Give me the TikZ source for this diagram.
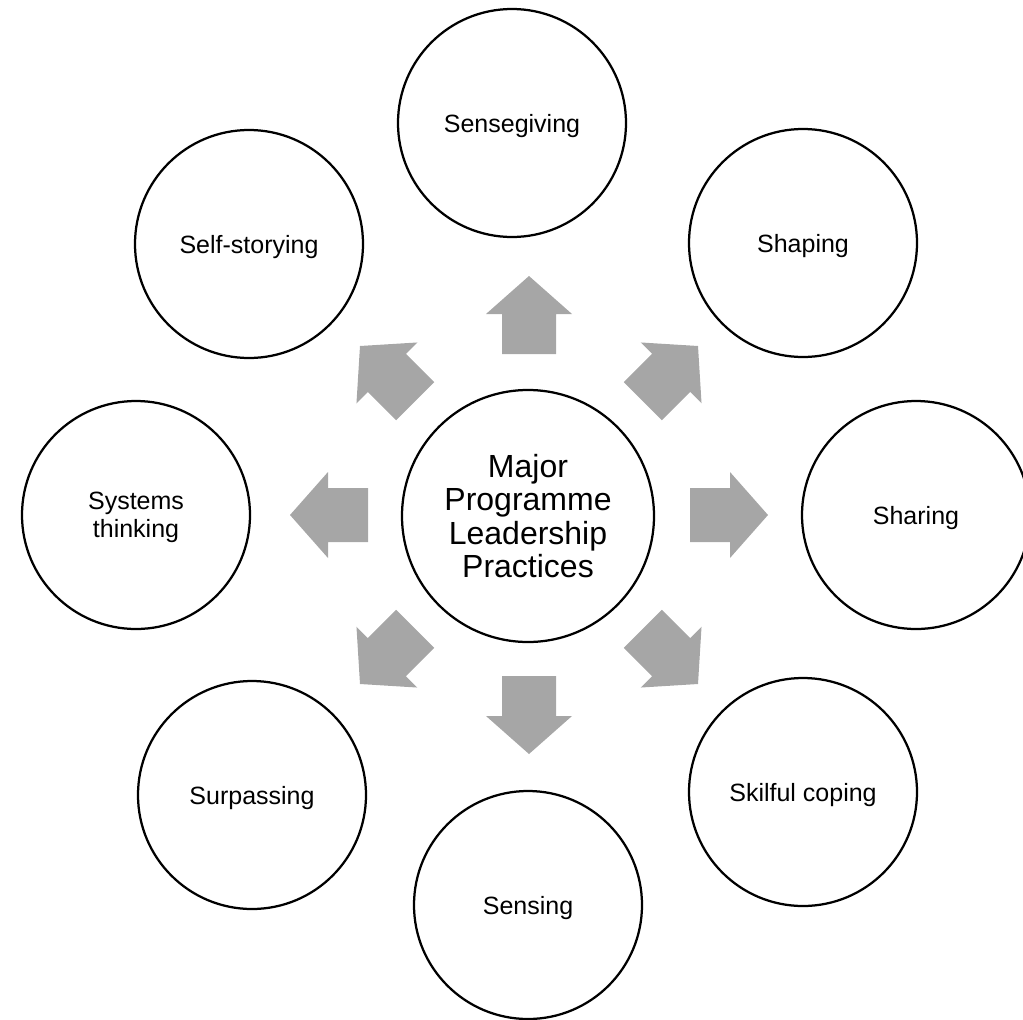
\documentclass[tikz,border=0pt]{standalone}
\usepackage{fontspec}
\setmainfont{Liberation Sans}
\definecolor{arrowgray}{HTML}{A6A6A6}
\begin{document}
\begin{tikzpicture}[x=1pt,y=-1pt,
  practice/.style={circle, draw=black, line width=2.25pt, fill=white, inner sep=0pt,
    minimum size=228pt, align=center, font=\fontsize{25}{28}\selectfont},
  oneline/.style={practice, text height=22pt, text depth=4pt},
  core/.style={practice, minimum size=252pt, font=\fontsize{32}{33.5}\selectfont},
  blockarrow/.style={fill=arrowgray, draw=none}]
\useasboundingbox (0,0) rectangle (1023,1020);
% radiating block arrows
\foreach \a in {0,45,...,315}{
  \fill[blockarrow, shift={(529,515)}, rotate=\a]
    (161,-27) -- (201,-27) -- (201,-43) -- (239,0) -- (201,43) -- (201,27) -- (161,27) -- cycle;
}
\node[core] (core) at (528,516) {Major\\Programme\\Leadership\\Practices};
\node[oneline] (sensegiving) at (512,123) {Sensegiving};
\node[oneline] (shaping) at (803,243) {Shaping};
\node[oneline] (sharing) at (916,515) {Sharing};
\node[oneline] (coping) at (803,792) {Skilful coping};
\node[oneline] (sensing) at (528,905) {Sensing};
\node[oneline] (surpassing) at (252,795) {Surpassing};
\node[practice] (systems) at (136,515) {\raisebox{-2.5pt}[\height][\depth]{\begin{tabular}{@{}c@{}}Systems\\thinking\end{tabular}}};
\node[oneline] (selfstory) at (249,244) {Self-storying};
\end{tikzpicture}
\end{document}
